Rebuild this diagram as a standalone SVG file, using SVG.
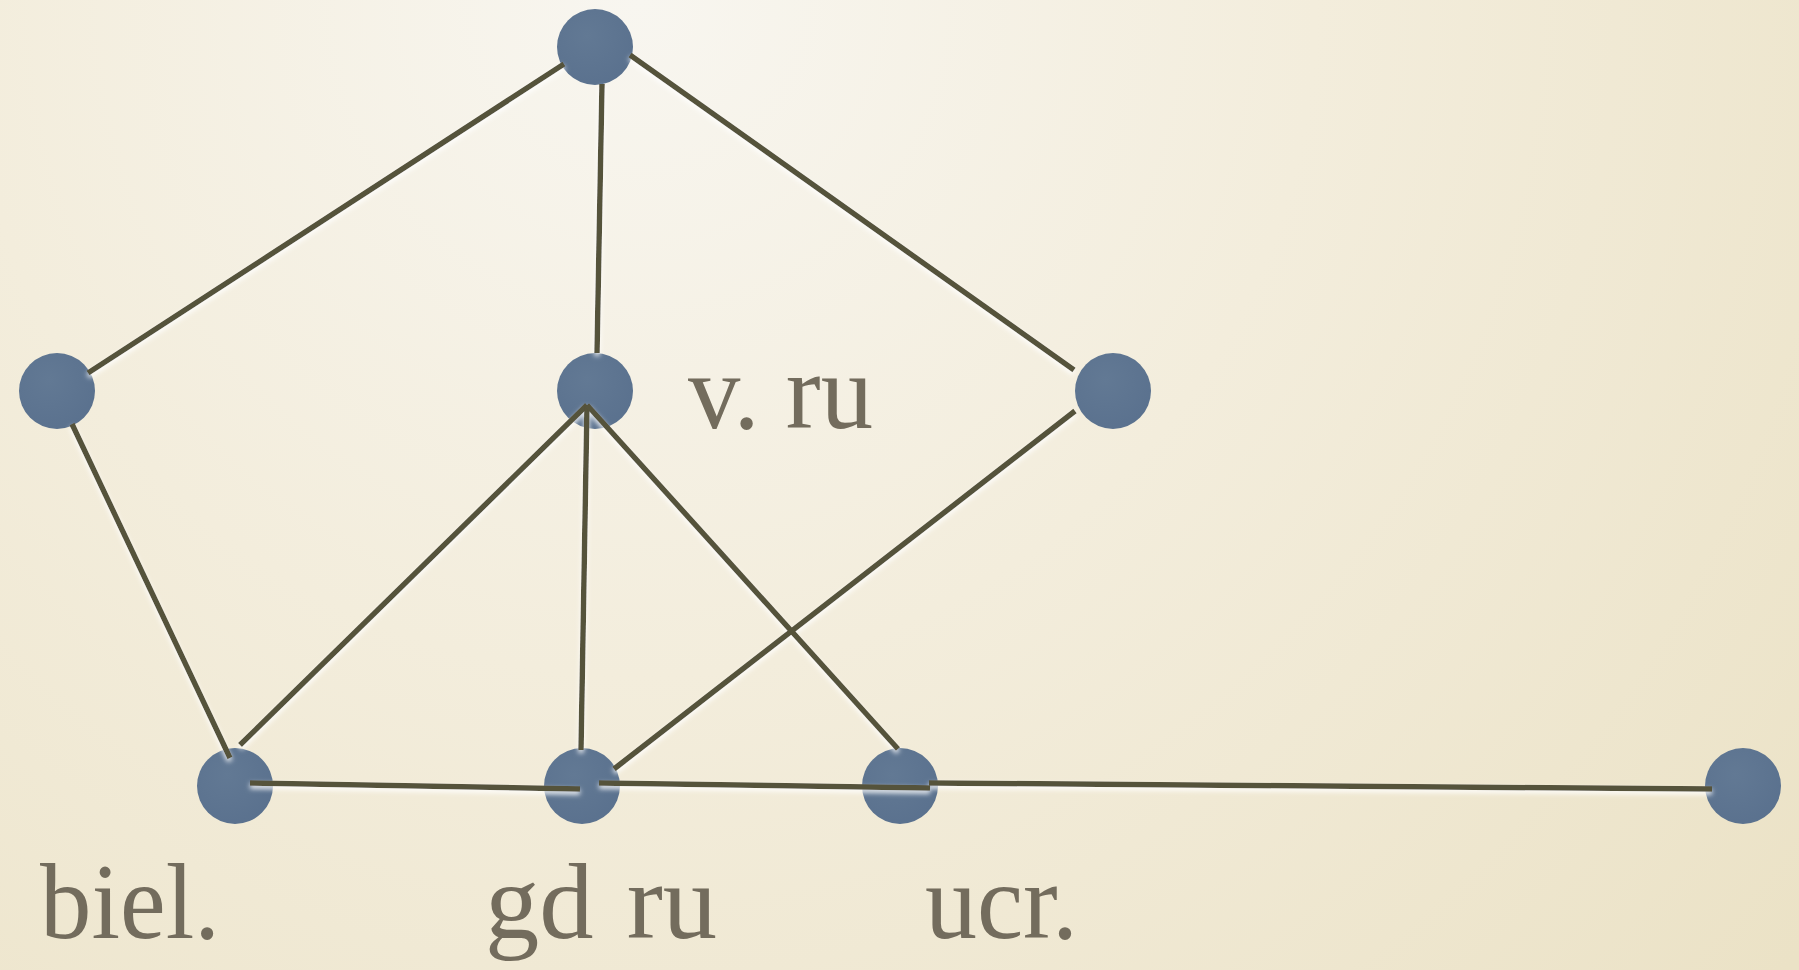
<svg xmlns="http://www.w3.org/2000/svg" width="1799" height="970" viewBox="0 0 1799 970">
  <defs>
    <radialGradient id="bg" cx="640" cy="0" r="1500" gradientUnits="userSpaceOnUse">
      <stop offset="0" stop-color="#f8f6f0"/>
      <stop offset="0.45" stop-color="#f3eddc"/>
      <stop offset="1" stop-color="#ebe2c6"/>
    </radialGradient>
    <radialGradient id="nodeFill" cx="0.4" cy="0.35" r="0.7">
      <stop offset="0" stop-color="#627994"/>
      <stop offset="1" stop-color="#5a718e"/>
    </radialGradient>
    <filter id="glow" x="-20%" y="-20%" width="140%" height="140%">
      <feGaussianBlur in="SourceAlpha" stdDeviation="2.5" result="b"/>
      <feOffset in="b" dx="0" dy="3" result="o"/>
      <feFlood flood-color="#ffffff" flood-opacity="0.9"/>
      <feComposite in2="o" operator="in" result="w"/>
      <feMerge>
        <feMergeNode in="w"/>
        <feMergeNode in="SourceGraphic"/>
      </feMerge>
    </filter>
  </defs>
  <style>
    .node { fill: url(#nodeFill); }
    .edge { stroke: #55523a; stroke-width: 5.5; fill: none; }
    .label { font-family: "Liberation Serif", "DejaVu Serif", serif; font-size: 108px; fill: #736c5d; }
  </style>
  <rect x="0" y="0" width="1799" height="970" fill="url(#bg)"/>

  <g id="nodes">
    <g id="n-top"><circle class="node" cx="595" cy="47" r="38"/></g>
    <g id="n-left"><circle class="node" cx="57" cy="391" r="38"/></g>
    <g id="n-vru"><circle class="node" cx="595" cy="391" r="38"/></g>
    <g id="n-right"><circle class="node" cx="1113" cy="391" r="38"/></g>
    <g id="n-biel"><circle class="node" cx="235" cy="786" r="38"/></g>
    <g id="n-gdru"><circle class="node" cx="582" cy="786" r="38"/></g>
    <g id="n-ucr"><circle class="node" cx="900" cy="786" r="38"/></g>
    <g id="n-far"><circle class="node" cx="1743" cy="786" r="38"/></g>
  </g>

  <g id="connectors" filter="url(#glow)">
    <line class="edge" x1="564" y1="64" x2="88" y2="373"/>
    <line class="edge" x1="602" y1="84" x2="597" y2="353"/>
    <line class="edge" x1="630" y1="55" x2="1074" y2="370"/>
    <line class="edge" x1="72" y1="424" x2="230" y2="758"/>
    <line class="edge" x1="587" y1="405" x2="240" y2="745"/>
    <line class="edge" x1="587" y1="405" x2="581" y2="750"/>
    <line class="edge" x1="587" y1="405" x2="898" y2="749"/>
    <line class="edge" x1="1075" y1="411" x2="614" y2="769"/>
    <line class="edge" x1="250" y1="783" x2="580" y2="789"/>
    <line class="edge" x1="599" y1="783" x2="930" y2="788"/>
    <line class="edge" x1="929" y1="783" x2="1712" y2="789"/>
  </g>

  <g id="labels">
    <text class="label" x="688" y="428" textLength="185" lengthAdjust="spacingAndGlyphs">v. ru</text>
    <text class="label" x="40" y="938" textLength="180" lengthAdjust="spacingAndGlyphs">biel.</text>
    <text class="label" x="485" y="938" word-spacing="6" textLength="232" lengthAdjust="spacingAndGlyphs">gd ru</text>
    <text class="label" x="925" y="938" textLength="153" lengthAdjust="spacingAndGlyphs">ucr.</text>
  </g>
</svg>
